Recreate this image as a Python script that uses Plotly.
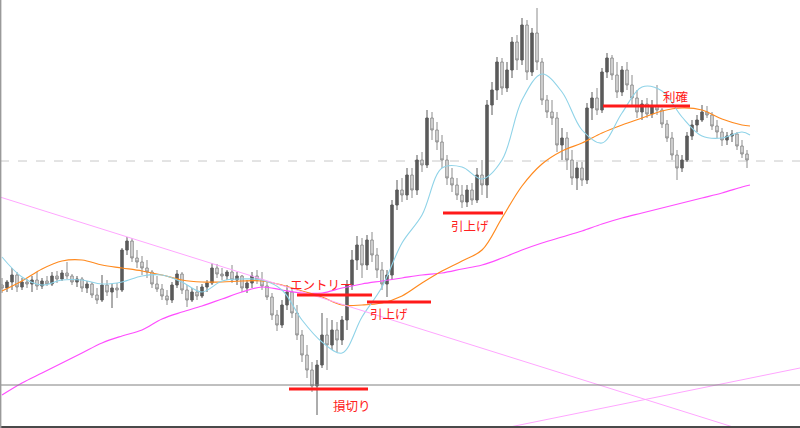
import plotly.graph_objects as go

# Candle data (price units, one bar per index)
bar_open = [143,140,146,153,141,146,144,148,142,147,144,152,149,155,152,146,149,140,144,133,
            128,143,136,140,138,178,187,170,166,160,156,144,139,132,128,143,154,138,128,136,
            132,141,145,160,154,152,156,148,152,140,145,152,148,142,131,113,103,123,136,115,
            93,73,58,42,63,93,83,98,88,108,143,168,183,163,188,173,158,144,153,223,
            238,233,253,238,268,263,310,298,286,268,250,243,233,226,238,228,253,243,323,338,
            366,340,358,386,368,403,356,395,366,328,316,310,283,290,268,250,260,248,320,330,
            318,356,370,353,336,358,343,330,316,324,314,322,318,304,290,273,260,268,292,303,
            308,316,313,302,296,288,292,294,282,274]
bar_high = [150,148,160,156,150,149,152,156,150,152,156,157,158,166,154,152,151,147,146,140,
            153,148,144,145,180,191,190,178,172,168,158,152,144,138,146,158,156,143,140,142,
            144,148,165,164,160,158,163,156,153,148,156,158,156,146,135,118,128,143,140,123,
            98,83,66,68,115,110,108,106,112,148,178,192,190,193,196,180,166,158,228,248,
            250,260,260,273,276,318,316,306,293,273,260,250,243,243,245,260,268,328,346,371,
            370,366,391,393,410,408,400,420,370,333,328,316,300,296,278,266,266,325,336,340,
            360,375,373,366,362,366,353,338,328,330,328,343,320,308,296,278,273,296,308,313,
            323,322,316,308,300,296,298,296,288,278]
bar_low = [135,136,138,136,138,140,136,138,139,142,142,145,147,149,143,141,136,135,130,124,
           126,132,120,130,136,173,166,160,153,150,140,136,128,123,125,140,134,121,126,128,
           130,136,143,150,148,148,145,143,136,135,140,144,138,128,108,97,100,118,110,88,
           66,50,36,13,60,58,78,76,83,98,138,158,150,158,166,150,138,131,148,218,
           226,228,230,233,256,260,288,278,260,243,236,228,220,221,223,225,233,230,313,328,
           333,336,350,358,363,348,352,358,323,310,303,276,268,258,243,238,242,244,308,313,
           315,350,348,330,332,338,323,310,308,310,310,313,300,286,268,248,256,266,288,296,
           306,310,298,290,282,283,286,278,270,260]
bar_close = [140,146,153,141,146,144,148,142,147,144,152,149,155,152,146,149,140,144,133,128,
             143,136,140,138,178,187,170,166,160,156,144,139,132,128,143,154,138,128,136,132,
             141,145,160,154,152,156,148,152,140,145,152,148,142,131,113,103,123,136,115,93,
             73,58,42,63,93,83,98,88,108,143,168,183,163,188,173,158,144,153,223,238,
             233,253,238,268,263,310,298,286,268,250,243,233,226,238,228,253,243,323,338,366,
             340,358,386,368,403,356,395,366,328,316,310,283,290,268,250,260,248,320,330,318,
             356,370,353,336,358,343,330,316,324,314,322,318,304,290,273,260,268,292,303,308,
             316,313,302,296,288,292,294,282,274,268]

# Moving averages (bar index, price)
ma_x = [0,4,8,12,16,20,24,28,32,36,40,44,48,52,56,60,64,68,72,76,
        80,84,88,92,96,100,104,108,112,116,120,124,128,132,136,140,144,148,149.6]
ma_short = [171,151,143,148,148,144,146,152,153,146,136,147,149,148,138,108,86,75,111,141,
            185,213,260,261,249,268,328,354,336,298,285,315,341,337,311,292,290,296,293]
ma_mid = [137,147,159,167,168,163,160,157,153,148,146,146,147,147,143,137,131,123,123,125,
          132,145,157,167,178,210,242,264,277,285,295,303,310,317,320,318,309,303,302]
ma_long = [33,45,55,65,75,85,92,98,109,116,122,129,136,141,138,135,135,140,144,147,
           150,153,155,159,163,170,178,185,191,197,204,210,215,220,225,230,235,241,243]

# Trend lines (two anchor points each)
trend1_x = [-0.4, 159.6]
trend1_y = [231, -20]
trend2_x = [100.6, 159.6]
trend2_y = [0, 60]

# Horizontal levels
level_dashed = 267
level_solid = 43

# Annotated trade levels
trade_labels = ["エントリー", "引上げ", "引上げ", "損切り", "利確"]
trade_x0 = [59.0, 73.0, 88.2, 57.4, 120.2]
trade_x1 = [74.0, 85.8, 100.2, 73.2, 137.6]
trade_level = [133, 126, 215, 39, 322]
label_x = [63.8, 77.4, 93.6, 70.0, 134.6]
label_y = [144, 115, 203, 23, 332]

idx = list(range(len(bar_close)))

fig = go.Figure()
fig.add_trace(go.Candlestick(
    x=idx, open=bar_open, high=bar_high, low=bar_low, close=bar_close,
    increasing=dict(line=dict(color="#5a5a5a", width=1), fillcolor="#5a5a5a"),
    decreasing=dict(line=dict(color="#8c8c8c", width=1), fillcolor="#e6e6e6"),
    whiskerwidth=0, showlegend=False, hoverinfo="skip"))

fig.add_trace(go.Scatter(x=ma_x, y=ma_long, mode="lines", line=dict(color="#ff4dff", width=1.2, shape="spline"), showlegend=False))
fig.add_trace(go.Scatter(x=ma_x, y=ma_mid, mode="lines", line=dict(color="#ff8a1f", width=1.2, shape="spline"), showlegend=False))
fig.add_trace(go.Scatter(x=ma_x, y=ma_short, mode="lines", line=dict(color="#8fd3e8", width=1.1, shape="spline"), showlegend=False))
fig.add_trace(go.Scatter(x=trend1_x, y=trend1_y, mode="lines", line=dict(color="#ffa6ff", width=1), showlegend=False))
fig.add_trace(go.Scatter(x=trend2_x, y=trend2_y, mode="lines", line=dict(color="#ffa6ff", width=1), showlegend=False))

shapes = [
    dict(type="line", xref="paper", x0=0, x1=1, yref="y", y0=level_dashed, y1=level_dashed,
         line=dict(color="#c8c8c8", width=1, dash="dash"), layer="below"),
    dict(type="line", xref="paper", x0=0, x1=1, yref="y", y0=level_solid, y1=level_solid,
         line=dict(color="#808080", width=1)),
    dict(type="rect", xref="paper", yref="paper", x0=0, x1=1, y0=0, y1=2/428,
         fillcolor="#4a4a4a", line=dict(width=0)),
    dict(type="line", xref="paper", yref="paper", x0=0.0008, x1=0.0008, y0=0, y1=1,
         line=dict(color="#9a9a9a", width=1.5)),
]
for x0, x1, lv in zip(trade_x0, trade_x1, trade_level):
    shapes.append(dict(type="line", x0=x0, x1=x1, y0=lv, y1=lv, xref="x", yref="y",
                       line=dict(color="#ff1a1a", width=3)))

annotations = []
for t, lx, ly in zip(trade_labels, label_x, label_y):
    annotations.append(dict(x=lx, y=ly, text=t, showarrow=False, xref="x", yref="y",
                            font=dict(family="Noto Sans CJK JP", size=12.5, color="#ff2020")))

fig.update_layout(
    width=800, height=428, margin=dict(l=0, r=0, t=0, b=0),
    paper_bgcolor="white", plot_bgcolor="white",
    xaxis=dict(range=[-0.4, 159.6], visible=False, rangeslider=dict(visible=False), fixedrange=True),
    yaxis=dict(range=[0, 428], visible=False, fixedrange=True),
    shapes=shapes, annotations=annotations, showlegend=False, boxgap=0.3,
)
fig.write_html("out.html", config={"displayModeBar": False},
               post_script="document.body.style.margin='0';document.body.style.overflow='hidden';")
